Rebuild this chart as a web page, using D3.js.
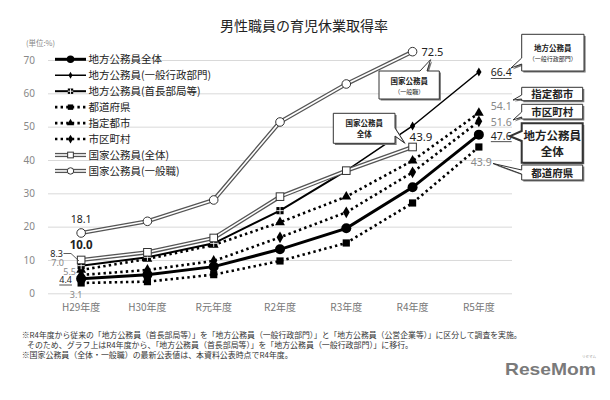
<!DOCTYPE html>
<html><head><meta charset="utf-8">
<script src="https://cdn.jsdelivr.net/npm/d3@7"></script>
<style>body{margin:0;background:#fff} svg{display:block}</style>
</head><body><svg id="c" width="610" height="400"></svg>
<script>
const categories = ["H29年度","H30年度","R元年度","R2年度","R3年度","R4年度","R5年度"];
const yTicks = [0,10,20,30,40,50,60,70];
const chihoZentai   = [4.4,5.6,8.0,13.2,19.5,31.8,47.6];
const shuchoBukyoku = [8.3,10.8,15.0,24.8,36.8,null,null];
const ippanGyosei   = [null,null,null,null,null,50.2,66.4];
const todofuken     = [3.1,3.5,5.6,9.7,15.1,27.1,43.9];
const shiteiToshi   = [7.0,10.3,14.5,21.3,29.0,39.8,54.1];
const shikuchoson   = [5.5,7.0,9.7,16.8,24.3,36.3,51.6];
const kokkaZentai   = [10.0,12.3,16.6,29.0,36.8,43.9,null];
const kokkaIppan    = [18.1,21.6,28.0,51.4,62.8,72.5,null];
const seriesNames = ["地方公務員全体","地方公務員(一般行政部門)","地方公務員(首長部局等)","都道府県","指定都市","市区町村","国家公務員(全体)","国家公務員(一般職)"];
const title = "男性職員の育児休業取得率";
const notes = ["※R4年度から従来の「地方公務員（首長部局等）」を「地方公務員（一般行政部門）」と「地方公務員（公営企業等）」に区分して調査を実施。",
  "そのため、グラフ上はR4年度から、「地方公務員（首長部局等）」を「地方公務員（一般行政部門）」に移行。",
  "※国家公務員（全体・一般職）の最新公表値は、本資料公表時点でR4年度。"];

const JP = "'Noto Sans CJK JP','Noto Sans',sans-serif";
const NUM = "'Noto Sans','DejaVu Sans',sans-serif";
const svg = d3.select("#c");
svg.append("rect").attr("width",610).attr("height",400).attr("fill","#fff");

const x = d3.scaleBand().domain(categories).range([48,512]).padding(0);
const cx = c => x(c) + x.bandwidth()/2;
const y = d3.scaleLinear().domain([0,70]).range([293.3,60]);

svg.append("text").attr("x",304).attr("y",31).attr("text-anchor","middle")
  .attr("font-family",JP).attr("font-size",14).attr("fill","#222").text(title);
svg.append("text").attr("x",26).attr("y",46).attr("font-family",JP).attr("font-size",7.5).attr("fill","#888").text("(単位:%)");

const yAxis = d3.axisLeft(y).tickValues(yTicks).tickSize(-(512-48)).tickPadding(13);
const ga = svg.append("g").attr("transform","translate(48,0)").call(yAxis);
ga.select(".domain").remove();
ga.selectAll(".tick line").attr("stroke","#d9d9d9").attr("stroke-width",1);
ga.selectAll(".tick text").attr("font-family",NUM).attr("font-size",10).attr("fill","#888");

const xAxis = d3.axisBottom(x).tickSize(0).tickPadding(11);
const gx = svg.append("g").attr("transform","translate(0,293.3)").call(xAxis);
gx.select(".domain").remove();
gx.selectAll(".tick text").attr("font-family",JP).attr("font-size",10).attr("fill","#777");

const mk = arr => categories.map((c,i)=>({c, v: arr[i]}));
const line = d3.line().defined(d=>d.v!=null).x(d=>cx(d.c)).y(d=>y(d.v));

const ippanPath = categories.map((c,i)=> ippanGyosei[i]!=null ? ippanGyosei[i] : (ippanGyosei[i+1]!=null && shuchoBukyoku[i]!=null ? shuchoBukyoku[i] : null));

const styles = {
  thick:  {w:3, dash:null},
  thin:   {w:1.5, dash:null},
  mid:    {w:2, dash:null},
  dot:    {w:2.6, dash:"2.4,3.2"},
};
function drawLine(g, data, st){
  g.append("path").datum(data).attr("d",line).attr("fill","none").attr("stroke","#000")
   .attr("stroke-width",st.w).attr("stroke-dasharray",st.dash);
}
function drawDouble(g, data){
  g.append("path").datum(data).attr("d",line).attr("fill","none").attr("stroke","#555").attr("stroke-width",4.2);
  g.append("path").datum(data).attr("d",line).attr("fill","none").attr("stroke","#fff").attr("stroke-width",1.6);
}
function marker(g, type, px, py, scale){
  scale = scale||1;
  if(type==="circle") g.append("circle").attr("cx",px).attr("cy",py).attr("r",5*scale).attr("fill","#000");
  else if(type==="square") g.append("rect").attr("x",px-3.6*scale).attr("y",py-3.6*scale).attr("width",7.2*scale).attr("height",7.2*scale).attr("fill","#000");
  else if(type==="crossSquare"){
    g.append("rect").attr("x",px-3.6*scale).attr("y",py-3.6*scale).attr("width",7.2*scale).attr("height",7.2*scale).attr("fill","#000");
    g.append("path").attr("d",`M${px-3.6*scale},${py}H${px+3.6*scale}M${px},${py-3.6*scale}V${py+3.6*scale}`).attr("stroke","#fff").attr("stroke-width",0.9);
  }
  else if(type==="triangle") g.append("path").attr("d",d3.symbol(d3.symbolTriangle, 42*scale*scale)()).attr("transform",`translate(${px},${py})`).attr("fill","#000");
  else if(type==="diamond") g.append("path").attr("d",d3.symbol(d3.symbolDiamond, 40*scale*scale)()).attr("transform",`translate(${px},${py})`).attr("fill","#000");
  else if(type==="smallDiamond") g.append("path").attr("d",d3.symbol(d3.symbolDiamond, 24*scale*scale)()).attr("transform",`translate(${px},${py})`).attr("fill","#000");
  else if(type==="openSquare") g.append("rect").attr("x",px-3.8*scale).attr("y",py-3.8*scale).attr("width",7.6*scale).attr("height",7.6*scale).attr("fill","#fff").attr("stroke","#333").attr("stroke-width",1);
  else if(type==="openCircle") g.append("circle").attr("cx",px).attr("cy",py).attr("r",4.3*scale).attr("fill","#fff").attr("stroke","#333").attr("stroke-width",1);
}
function markers(g, data, type){
  data.forEach(d=>{ if(d.v!=null) marker(g,type,cx(d.c),y(d.v)); });
}

const plot = svg.append("g");
drawLine(plot, mk(todofuken), styles.dot);
drawLine(plot, mk(shikuchoson), styles.dot);
drawLine(plot, mk(shiteiToshi), styles.dot);
drawLine(plot, mk(chihoZentai), styles.thick);
drawLine(plot, mk(shuchoBukyoku), styles.mid);
drawLine(plot, mk(ippanPath), styles.thin);
markers(plot, mk(todofuken), "square");
markers(plot, mk(shikuchoson), "diamond");
markers(plot, mk(chihoZentai), "circle");
markers(plot, mk(shiteiToshi), "triangle");
markers(plot, mk(shuchoBukyoku), "crossSquare");
markers(plot, mk(ippanGyosei), "smallDiamond");
drawDouble(plot, mk(kokkaZentai));
drawDouble(plot, mk(kokkaIppan));
markers(plot, mk(kokkaZentai), "openSquare");
markers(plot, mk(kokkaIppan), "openCircle");

const legendDefs = [
  {st:"thick", m:"circle"},{st:"thin", m:"smallDiamond"},{st:"mid", m:"crossSquare"},
  {st:"dot", m:"square"},{st:"dot", m:"triangle"},{st:"dot", m:"diamond"},
  {st:"double", m:"openSquare"},{st:"double", m:"openCircle"}];
const lg = svg.append("g");
seriesNames.forEach((n,i)=>{
  const ly = 59.3 + i*15.95;
  const d = legendDefs[i];
  const seg = [{x:55,y:ly},{x:86,y:ly}];
  const l2 = d3.line().x(p=>p.x).y(p=>p.y);
  if(d.st==="double"){
    lg.append("path").attr("d",l2(seg)).attr("stroke","#555").attr("stroke-width",4.2);
    lg.append("path").attr("d",l2(seg)).attr("stroke","#fff").attr("stroke-width",1.6);
  } else {
    const s = styles[d.st];
    lg.append("path").attr("d",l2(seg)).attr("stroke","#000").attr("stroke-width",s.w).attr("stroke-dasharray",s.dash);
  }
  marker(lg, d.m, 70.5, ly, 0.75);
  lg.append("text").attr("x",88.5).attr("y",ly+3.8).attr("font-family",JP).attr("font-size",10.5).attr("fill","#222").text(n);
});

const lab = svg.append("g").attr("font-family",NUM);
function vlabel(txt, px, py, opt){
  opt = opt||{};
  const t = lab.append("text").attr("x",px).attr("y",py).attr("text-anchor",opt.anchor||"start")
    .attr("font-size",opt.size||10.5).attr("fill",opt.fill||"#222").attr("font-weight",opt.bold?"bold":null).text(txt);
  if(opt.underline){
    const bb = t.node().getBBox();
    lab.append("line").attr("x1",bb.x).attr("x2",bb.x+bb.width).attr("y1",py+2).attr("y2",py+2).attr("stroke",opt.fill||"#222").attr("stroke-width",0.8);
  }
}
const i0 = categories[0], i4 = categories[5], i5 = categories[6];
vlabel(kokkaIppan[0].toFixed(1), cx(i0), y(kokkaIppan[0])-9.5, {anchor:"middle"});
vlabel(kokkaZentai[0].toFixed(1), cx(i0), y(kokkaZentai[0])-10.5, {anchor:"middle", size:11.5, bold:true});
vlabel(shuchoBukyoku[0].toFixed(1), 63, 256.5, {anchor:"end", size:9});
lab.append("path").attr("d","M63.5,253.5H71L79,261").attr("fill","none").attr("stroke","#333").attr("stroke-width",0.8);
vlabel(shiteiToshi[0].toFixed(1), 64, 266, {anchor:"end", size:9, fill:"#888"});
vlabel(shikuchoson[0].toFixed(1), 76, 275, {anchor:"end", size:9, fill:"#888"});
vlabel(chihoZentai[0].toFixed(1), 72, 283, {anchor:"end", size:9, underline:true});
vlabel(todofuken[0].toFixed(1), cx(i0)-5, 298, {anchor:"middle", size:9, fill:"#888"});

vlabel(kokkaIppan[5].toFixed(1), cx(i4)+9, y(kokkaIppan[5])+4, {size:11});
vlabel(kokkaZentai[5].toFixed(1), cx(i4)-3, y(kokkaZentai[5])-6, {size:11.5});
vlabel(ippanGyosei[6].toFixed(1), cx(i5)+12, y(ippanGyosei[6])+4.5, {size:10.5, underline:true});
vlabel(shiteiToshi[6].toFixed(1), cx(i5)+12, y(shiteiToshi[6])-3, {size:10.5, fill:"#888"});
vlabel(shikuchoson[6].toFixed(1), cx(i5)+12, y(shikuchoson[6])+4.5, {size:10.5, fill:"#888"});
vlabel(chihoZentai[6].toFixed(1), cx(i5)+12, y(chihoZentai[6])+5, {size:10.5, underline:true});
vlabel(todofuken[6].toFixed(1), cx(i5)-8, y(todofuken[6])+19.5, {size:10.5, fill:"#888"});

const co = svg.append("g");
function calloutPath(x0,y0,x1,y1,t){
  let p = `M${x0},${y0}`;
  if(t&&t.edge==="top") p+=`L${t.a},${y0}L${t.tx},${t.ty}L${t.b},${y0}`;
  p+=`L${x1},${y0}`;
  if(t&&t.edge==="right") p+=`L${x1},${t.a}L${t.tx},${t.ty}L${x1},${t.b}`;
  p+=`L${x1},${y1}`;
  if(t&&t.edge==="bottom") p+=`L${t.a},${y1}L${t.tx},${t.ty}L${t.b},${y1}`;
  p+=`L${x0},${y1}`;
  if(t&&t.edge==="left") p+=`L${x0},${t.a}L${t.tx},${t.ty}L${x0},${t.b}`;
  return p+"Z";
}
function callout(x0,y0,x1,y1,t,lines,sw){
  const d = calloutPath(x0,y0,x1,y1,t);
  co.append("path").attr("d",d).attr("transform","translate(1.6,1.6)").attr("fill","#777");
  co.append("path").attr("d",d).attr("fill","#fff").attr("stroke","#333").attr("stroke-width",sw||1);
  lines.forEach(l=>{
    co.append("text").attr("x",(x0+x1)/2).attr("y",l.y).attr("text-anchor","middle")
      .attr("font-family",JP).attr("font-size",l.s).attr("font-weight",l.b?"bold":null).attr("fill","#222").text(l.t);
  });
}
callout(379,71,439.3,99,{edge:"top",a:420,tx:cx(i4)+18,ty:y(kokkaIppan[5])+8,b:427},
  [{t:"国家公務員",y:84,s:7.5,b:true},{t:"（一般職）",y:94,s:6}]);
callout(333.3,113.3,395,143.3,{edge:"right",a:128,tx:cx(i4)-8,ty:y(kokkaZentai[5])-4,b:136},
  [{t:"国家公務員",y:126,s:7.5,b:true},{t:"全体",y:137,s:7.5,b:true}]);
callout(521.7,34.3,584,71,{edge:"left",a:64,tx:511,ty:y(ippanGyosei[6])-4,b:58},
  [{t:"地方公務員",y:51,s:7.5,b:true},{t:"（一般行政部門）",y:61,s:6}]);
callout(521.7,87.3,582.7,100.7,{edge:"left",a:99,tx:513,ty:100,b:95},
  [{t:"指定都市",y:98,s:10.5,b:true}]);
callout(521.7,104.3,582.7,119,{edge:"left",a:117,tx:513,ty:120,b:112},
  [{t:"市区町村",y:115.8,s:10.5,b:true}]);
callout(521.7,123.3,582.7,162.7,{edge:"left",a:141,tx:510,ty:y(chihoZentai[6])+1.5,b:131},
  [{t:"地方公務員",y:140,s:11.5,b:true},{t:"全体",y:156,s:11.5,b:true}], 2);
callout(521.7,165,582.7,180,{edge:"left",a:174,tx:493,ty:y(todofuken[6])+16.5,b:170},
  [{t:"都道府県",y:176.5,s:10.5,b:true}]);

const nt = svg.append("g").attr("font-family",JP).attr("fill","#333");
nt.append("text").attr("x",21.7).attr("y",338).attr("font-size",8).attr("textLength",500).attr("lengthAdjust","spacingAndGlyphs").text(notes[0]);
nt.append("text").attr("x",27).attr("y",347.5).attr("font-size",8).attr("textLength",386).attr("lengthAdjust","spacingAndGlyphs").text(notes[1]);
nt.append("text").attr("x",21.7).attr("y",358).attr("font-size",8).attr("textLength",271).attr("lengthAdjust","spacingAndGlyphs").text(notes[2]);

svg.append("text").attr("x",505).attr("y",375).attr("font-family","'Liberation Sans',Arial,sans-serif").attr("font-weight","bold")
  .attr("font-size",17).attr("fill","#7a7a7a").attr("textLength",91).attr("lengthAdjust","spacingAndGlyphs").text("ReseMom");
svg.append("text").attr("x",582).attr("y",357.5).attr("font-family",JP).attr("font-size",3.5).attr("fill","#999").text("リセマム");
</script></body></html>
